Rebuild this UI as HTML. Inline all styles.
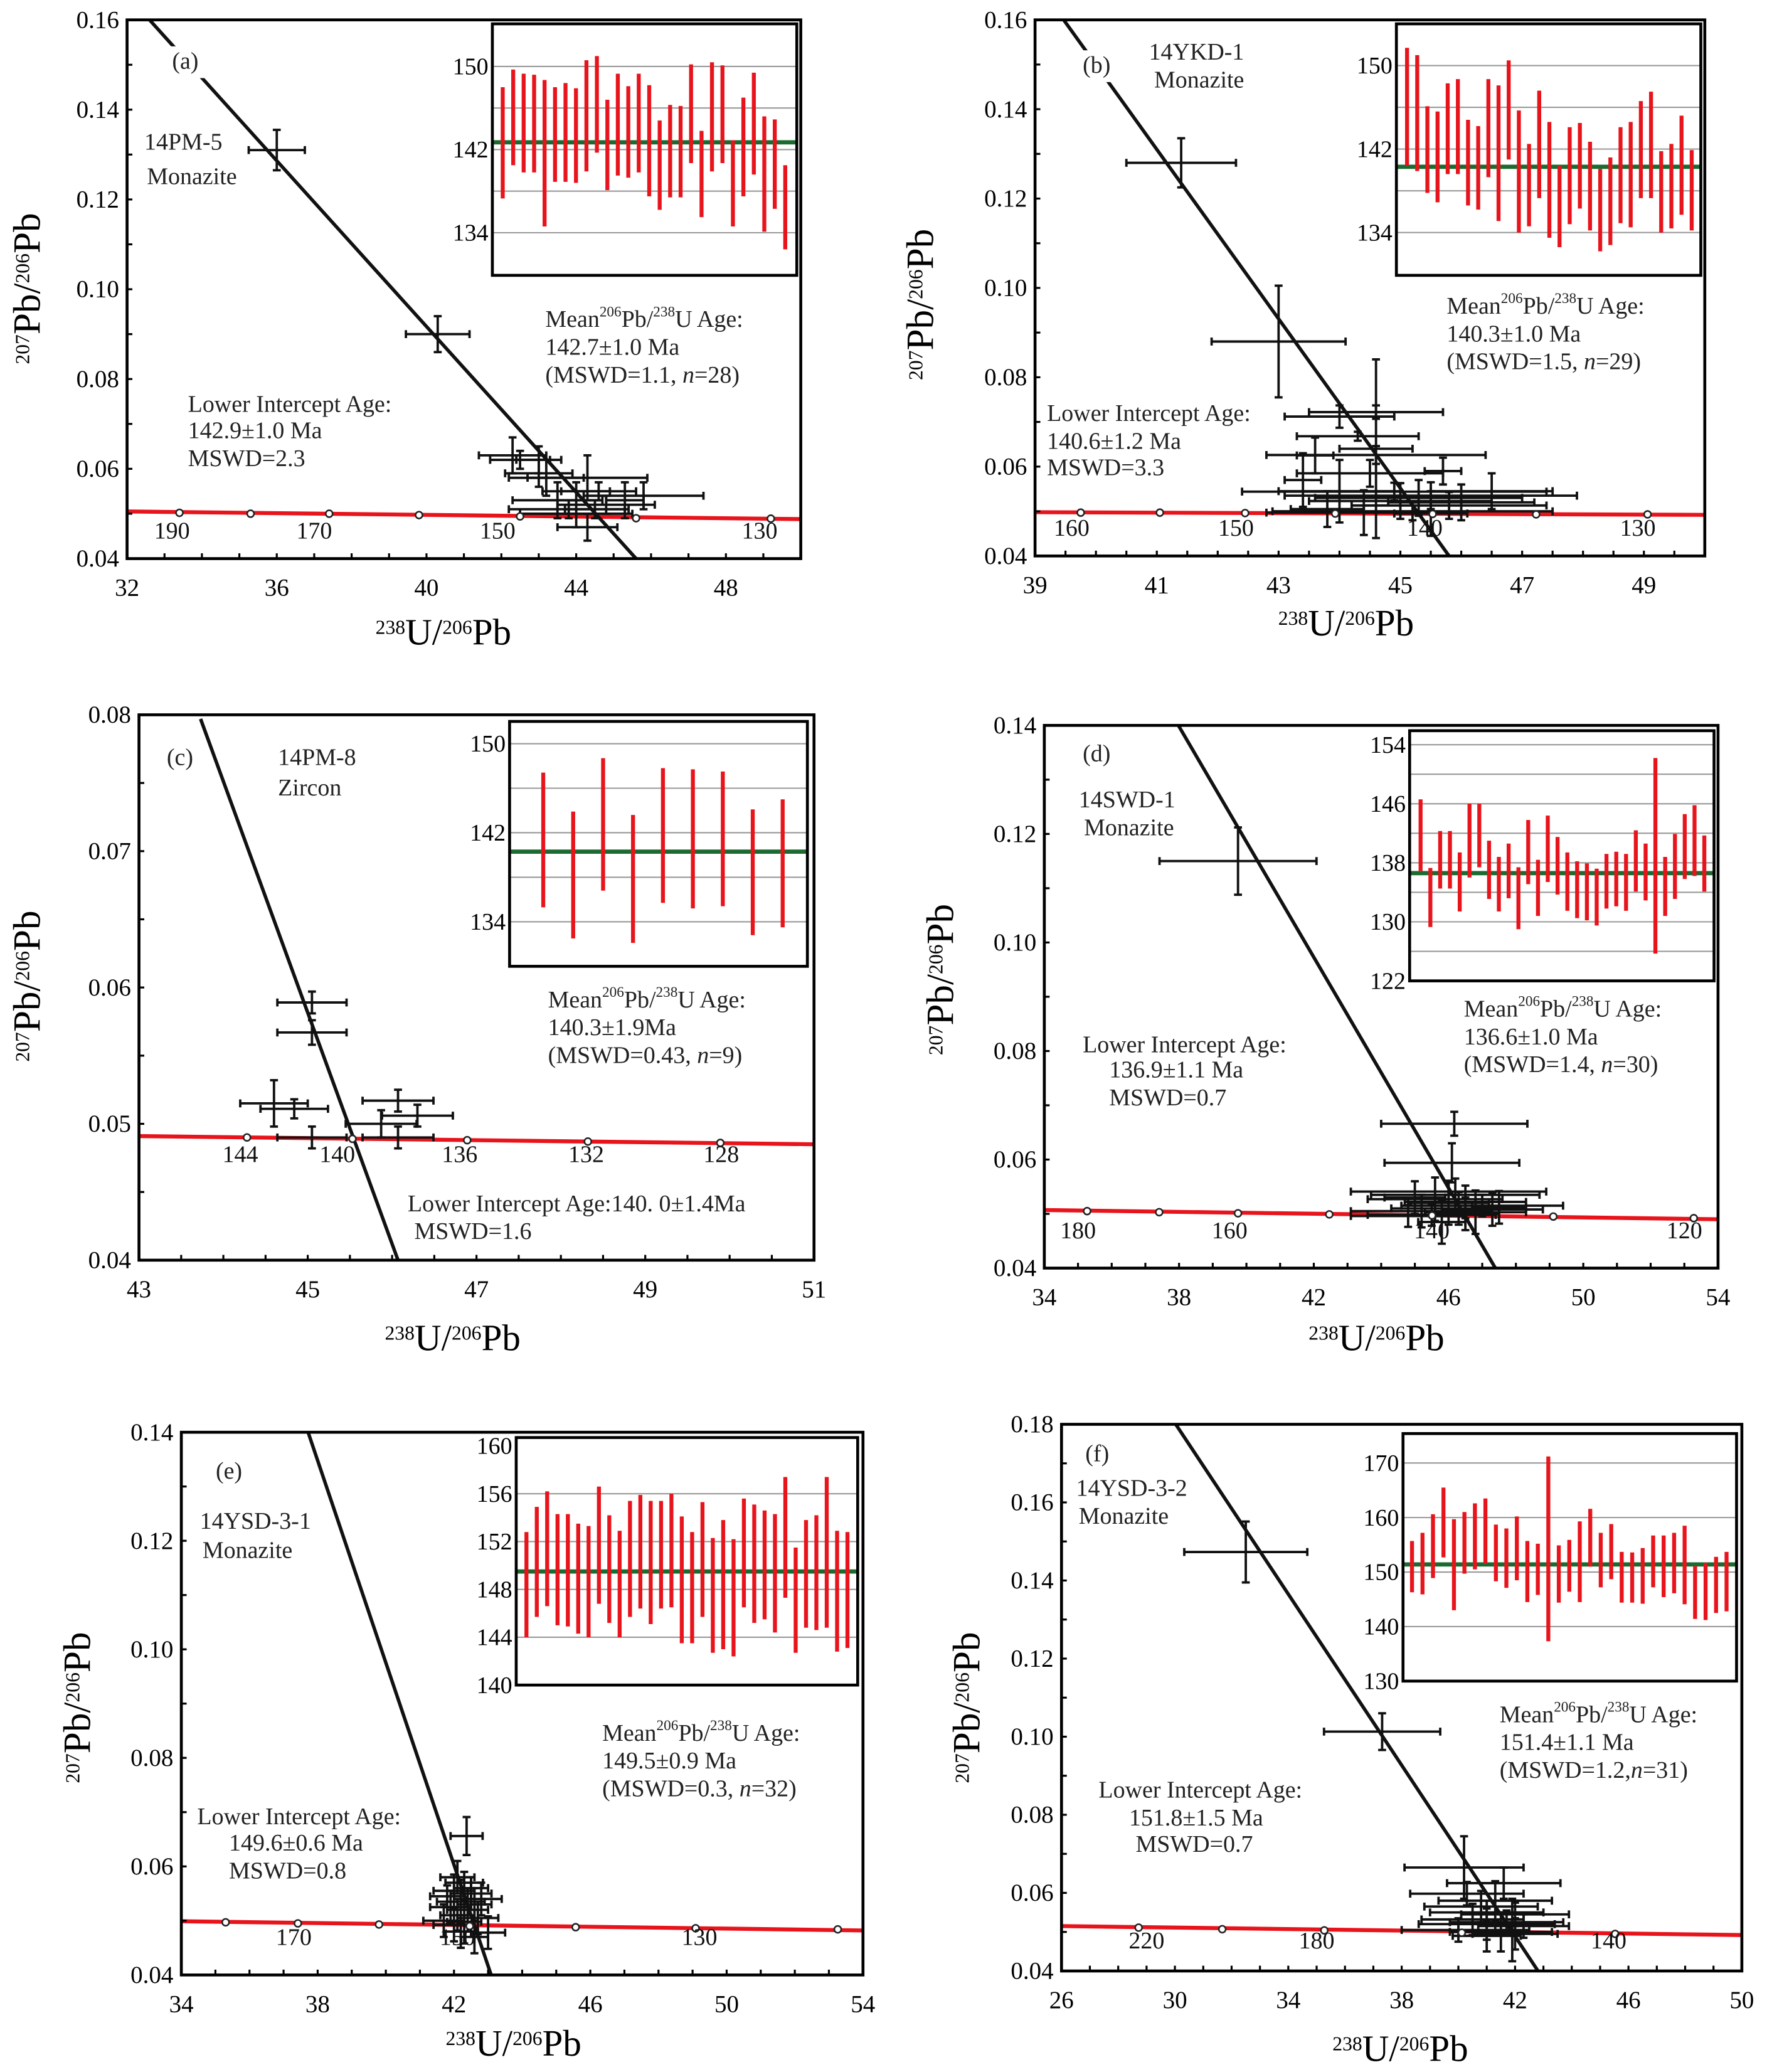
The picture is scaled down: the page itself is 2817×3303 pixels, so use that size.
<!DOCTYPE html>
<html><head><meta charset="utf-8"><title>U-Pb concordia diagrams</title>
<style>
html,body{margin:0;padding:0;background:#fff;}
svg{display:block;font-family:"Liberation Serif","DejaVu Serif",serif;}
</style></head>
<body>
<svg id="fig" xmlns="http://www.w3.org/2000/svg" width="2817" height="3303" viewBox="0 0 1335 1565.3"></svg>
<script>
// ---------- Inset data (206Pb/238U ages, error bar low/high) ----------
const aLo=[137.3,140.5,139.8,139.8,134.6,138.9,138.9,138.8,139.9,141.7,138.1,139.5,139.3,139.8,137.5,136.2,137.4,137.4,140.7,135.5,139.9,140.7,134.6,137.5,139.6,134.1,136.3,132.4];
const aHi=[148.0,149.7,149.3,149.2,148.7,148.0,148.4,147.9,150.6,151.0,146.8,149.3,148.1,149.3,148.2,144.8,146.3,146.2,150.2,143.8,150.4,150.1,142.9,147.0,149.4,145.2,144.9,140.5];
const bLo=[140.4,139.9,137.8,136.9,139.6,139.6,136.6,136.2,139.3,135.1,141.0,134.0,134.6,137.3,133.5,132.6,134.8,136.3,134.2,132.2,132.8,134.9,134.5,137.3,137.3,134.0,134.4,135.7,134.2];
const bHi=[151.7,151.0,146.1,145.6,148.3,148.7,144.8,144.2,148.7,148.1,150.5,145.7,142.5,147.6,144.6,140.4,144.1,144.5,142.7,140.1,141.2,144.1,144.6,146.6,147.5,141.8,142.5,145.2,141.9];
const cLo=[135.3,132.5,136.8,132.1,135.7,135.2,135.4,132.8,133.5];
const cHi=[147.4,143.9,148.7,143.6,147.8,147.7,147.5,144.1,145.0];
const dLo=[136.9,129.3,134.5,134.5,131.4,136.0,137.4,133.1,131.4,133.2,129.0,135.1,130.8,135.4,133.7,131.5,130.5,130.2,129.5,131.8,132.1,131.5,134.1,132.9,125.7,130.8,133.1,135.8,136.2,134.1];
const dHi=[146.6,137.3,142.3,142.3,139.4,146.0,146.0,141.0,138.8,140.6,137.4,143.8,138.4,144.4,141.5,139.4,138.2,137.9,137.2,139.2,139.5,139.2,142.4,140.6,152.2,138.8,141.9,144.6,145.8,141.7];
const eLo=[144.0,145.7,146.6,145.0,144.9,144.3,144.0,146.8,145.2,144.0,145.7,146.4,145.1,146.4,146.5,143.5,143.5,145.7,142.7,143.0,142.4,146.5,145.2,145.5,144.4,147.3,142.7,144.8,144.6,144.8,142.8,143.1];
const eHi=[152.8,154.9,156.2,154.3,154.3,153.5,153.3,156.6,154.2,152.9,155.4,155.9,155.4,155.4,156.0,154.1,152.8,155.3,152.3,153.8,152.2,155.6,155.1,154.6,154.3,157.4,151.5,153.8,154.2,157.4,152.9,152.8];
const fLo=[146.3,145.9,148.9,152.7,143.0,149.7,150.5,151.5,148.3,147.1,148.5,144.5,145.8,137.3,144.4,146.4,144.5,151.0,147.2,148.7,144.4,144.4,144.2,147.2,145.4,146.1,144.1,141.4,141.2,142.5,142.8];
const fHi=[155.7,157.2,160.6,165.5,159.7,161.0,162.6,163.5,158.7,158.0,160.2,155.7,155.2,171.2,154.9,155.9,159.3,161.6,157.2,158.8,153.7,153.6,154.4,156.7,156.7,157.2,158.5,151.1,151.7,152.8,153.7];
const insetMeans=[142.7,140.3,140.3,136.6,149.5,151.4];

// ---------- Concordia spot data ----------
const aX =[36.0,40.3,42.3,42.5,43.0,43.2,44.3,44.0,43.5,45.8,45.3,44.8,44.5,44.0,43.8,44.3,43.0,44.6];
const aXe=[0.75,0.85,0.9,0.8,0.9,1.0,1.6,0.9,1.2,1.6,0.5,1.3,0.8,1.5,1.6,0.8,0.6,1.0];
const aY =[0.131,0.090,0.063,0.062,0.059,0.058,0.058,0.055,0.053,0.054,0.053,0.052,0.051,0.050,0.051,0.047,0.062,0.055];
const aYe=[0.0045,0.004,0.004,0.002,0.003,0.004,0.005,0.002,0.004,0.003,0.004,0.002,0.002,0.003,0.002,0.003,0.003,0.002];
const bX =[41.4,43.0,44.6,44.0,44.6,44.3,44.6,43.6,44.5,43.4,44.0,45.7,45.5,45.3,45.0,46.0,45.8,45.2,44.4,46.5,45.5,43.8,44.9];
const bXe=[0.9,1.1,1.1,0.9,0.6,1.0,1.8,0.3,1.2,0.3,1.0,0.3,2.4,1.7,1.5,1.2,1.6,2.3,1.6,1.0,0.6,0.6,2.5];
const bY =[0.128,0.088,0.0722,0.0712,0.0640,0.0668,0.0626,0.0625,0.0585,0.0570,0.0545,0.0590,0.0535,0.0530,0.0523,0.0520,0.0513,0.0500,0.0497,0.0545,0.0495,0.0505,0.0544];
const bYe=[0.0055,0.0125,0.0015,0.0025,0.020,0.001,0.002,0.004,0.003,0.006,0.007,0.003,0.003,0.004,0.004,0.004,0.003,0.002,0.005,0.004,0.005,0.004,0.002];
const cX =[45.05,45.05,44.6,44.84,45.05,46.07,46.3,45.87,46.07];
const cXe=[0.41,0.41,0.4,0.4,0.41,0.42,0.42,0.42,0.42];
const cY =[0.0589,0.0567,0.0515,0.0511,0.0490,0.0517,0.0506,0.0500,0.0490];
const cYe=[0.0008,0.0009,0.0017,0.0007,0.0008,0.0008,0.0008,0.0010,0.0008];
const dX =[39.75,46.17,46.1,46.0,46.2,45.6,46.5,47.0,46.3,45.2,46.8,45.5,44.8,47.3,46.0,45.0,47.5,46.5,45.8];
const dXe=[2.33,2.17,2.0,2.9,2.5,2.0,1.8,2.4,2.0,2.1,1.5,1.9,1.7,1.5,1.2,0.9,0.8,1.0,0.7];
const dY =[0.1150,0.0666,0.0594,0.0541,0.0535,0.0527,0.0522,0.0515,0.0510,0.0505,0.0503,0.0498,0.0496,0.0508,0.0520,0.0530,0.0512,0.0500,0.0485];
const dYe=[0.0062,0.0022,0.0036,0.002,0.003,0.004,0.003,0.002,0.003,0.003,0.004,0.002,0.002,0.003,0.004,0.003,0.003,0.003,0.004];
const eX =[42.37,42.1,42.3,42.0,42.5,41.8,42.2,42.6,41.9,42.4,42.1,42.7,42.3,42.0,43.0,42.5,42.8,42.2,42.6,41.7];
const eXe=[0.47,0.5,0.55,0.6,0.6,0.5,0.7,0.5,0.6,0.6,0.5,0.6,0.5,0.6,0.5,0.5,0.6,0.5,0.4,0.6];
const eY =[0.0656,0.0580,0.0570,0.0555,0.0550,0.0545,0.0535,0.0530,0.0525,0.0520,0.0510,0.0505,0.0498,0.0492,0.0478,0.0560,0.0540,0.0480,0.0470,0.0500];
const eYe=[0.0035,0.003,0.002,0.003,0.003,0.002,0.004,0.003,0.003,0.004,0.003,0.003,0.004,0.003,0.003,0.002,0.003,0.003,0.003,0.003];
const fX =[32.5,37.31,40.2,41.6,40.3,41.3,40.8,41.0,42.0,40.5,41.7,41.0,42.3,40.0,41.5,42.0,41.0,41.9];
const fXe=[2.17,2.05,2.1,2.0,2.0,2.0,2.0,2.0,1.9,1.8,2.0,2.4,1.6,2.0,1.8,1.5,1.2,0.6];
const fY =[0.1473,0.1013,0.0665,0.0625,0.0598,0.0580,0.0565,0.0550,0.0545,0.0532,0.0525,0.0520,0.0515,0.0505,0.0500,0.0495,0.0490,0.0505];
const fYe=[0.0078,0.0047,0.008,0.004,0.003,0.005,0.004,0.003,0.003,0.004,0.003,0.004,0.003,0.003,0.005,0.004,0.004,0.008];

// ---------- Concordia age markers ----------
const aConX=[33.4,35.3,37.4,39.8,42.5,45.6,49.2];
const aConY=[0.0502,0.0500,0.0500,0.0497,0.0494,0.0490,0.0489];
const bConX=[39.75,41.05,42.45,43.93,45.53,47.23,49.06];
const bConY=[0.0497,0.0497,0.0496,0.0495,0.0494,0.0493,0.0493];
const cConX=[44.28,45.53,46.89,48.32,49.89];
const cConY=[0.0490,0.0489,0.0488,0.0487,0.0486];
const dConX=[35.27,37.41,39.75,42.46,45.51,49.11,53.28];
const dConY=[0.0505,0.0503,0.0501,0.0499,0.0497,0.0495,0.0492];
const eConX=[35.30,37.42,39.80,42.46,45.57,49.09,53.26];
const eConY=[0.0497,0.0495,0.0493,0.0490,0.0488,0.0486,0.0484];
const fConX=[28.72,31.67,35.27,40.12,45.53];
const fConY=[0.0511,0.0507,0.0504,0.0498,0.0495];
const aAgeLbl=["190","170","150","130"]; const aAgeX=[33.2,37.0,41.9,48.9];
const bAgeLbl=["160","150","140","130"]; const bAgeX=[39.6,42.3,45.4,48.9];
const cAgeLbl=["144","140","136","132","128"]; const cAgeX=[44.2,45.35,46.8,48.3,49.9];
const dAgeLbl=["180","160","140","120"]; const dAgeX=[35.0,39.5,45.5,53.0];
const eAgeLbl=["170","150","130"]; const eAgeX=[37.3,42.1,49.2];
const fAgeLbl=["220","180","140"]; const fAgeX=[29.0,35.0,45.3];

// ---------- Axis tick labels ----------
const aXTicks=[32,36,40,44,48]; const aYTicks=[0.04,0.06,0.08,0.10,0.12,0.14,0.16];
const bXTicks=[39,41,43,45,47,49]; const bYTicks=[0.04,0.06,0.08,0.10,0.12,0.14,0.16];
const cXTicks=[43,45,47,49,51]; const cYTicks=[0.04,0.05,0.06,0.07,0.08];
const dXTicks=[34,38,42,46,50,54]; const dYTicks=[0.04,0.06,0.08,0.10,0.12,0.14];
const eXTicks=[34,38,42,46,50,54]; const eYTicks=[0.04,0.06,0.08,0.10,0.12,0.14];
const fXTicks=[26,30,34,38,42,46,50]; const fYTicks=[0.04,0.06,0.08,0.10,0.12,0.14,0.16,0.18];
const aInsetTicks=[134,142,150]; const bInsetTicks=[134,142,150]; const cInsetTicks=[134,142,150];
const dInsetTicks=[122,130,138,146,154]; const eInsetTicks=[140,144,148,152,156,160]; const fInsetTicks=[130,140,150,160,170];

const NS="http://www.w3.org/2000/svg";
const svg=document.getElementById('fig');
function mk(tag,attrs,parent){const e=document.createElementNS(NS,tag);for(const k in attrs)e.setAttribute(k,attrs[k]);(parent||svg).appendChild(e);return e;}
function fmt(v,d){return v.toFixed(d);}

const panels=[
 {id:'a',box:[96,15,605,422],xr:[32,50],yr:[0.04,0.16],xt:aXTicks,yt:aYTicks,xdec:0,ydec:2,xminor:2,yminor:0.01,
  disc:[[32.6,0.16],[45.6,0.04]],con:[0.0505,0.0488],conX:aConX,conY:aConY,ageL:aAgeLbl,ageX:aAgeX,ageY:0.0445,
  X:aX,Xe:aXe,Y:aY,Ye:aYe,
  inset:{box:[372,18,602,208],vr:[129.9,154.1],grid:[134,138,142,146,150],ticks:aInsetTicks,lo:aLo,hi:aHi,mean:insetMeans[0],pad:[0.034,0.038]},
  ytitle:[30,218],xtitle:[335,487],knock:[124,35,34,24]},
 {id:'b',box:[782,15,1288,420],xr:[39,50],yr:[0.04,0.16],xt:bXTicks,yt:bYTicks,xdec:0,ydec:2,xminor:1,yminor:0.01,
  disc:[[39.47,0.16],[45.8,0.04]],con:[0.0498,0.0492],conX:bConX,conY:bConY,ageL:bAgeLbl,ageX:bAgeX,ageY:0.0445,
  X:bX,Xe:bXe,Y:bY,Ye:bYe,
  inset:{box:[1055,18,1285,208],vr:[129.9,154.0],grid:[134,138,142,146,150],ticks:bInsetTicks,lo:bLo,hi:bHi,mean:insetMeans[1],pad:[0.035,0.03]},
  ytitle:[705,230],xtitle:[1017,480],knock:[812,38,34,24]},
 {id:'c',box:[105,540,615,952],xr:[43,51],yr:[0.04,0.08],xt:cXTicks,yt:cYTicks,xdec:0,ydec:2,xminor:1,yminor:0.005,
  disc:[[43.73,0.0797],[46.07,0.04]],con:[0.0491,0.0485],conX:cConX,conY:cConY,ageL:cAgeLbl,ageX:cAgeX,ageY:0.0472,
  X:cX,Xe:cXe,Y:cY,Ye:cYe,
  inset:{box:[385,545,610,730],vr:[130.0,152.0],grid:[134,138,142,146,150],ticks:cInsetTicks,lo:cLo,hi:cHi,mean:insetMeans[2],pad:[0.113,0.083]},
  ytitle:[30,745],xtitle:[342,1020]},
 {id:'d',box:[789,548,1298,958],xr:[34,54],yr:[0.04,0.14],xt:dXTicks,yt:dYTicks,xdec:0,ydec:2,xminor:2,yminor:0.01,
  disc:[[37.98,0.14],[47.39,0.04]],con:[0.0507,0.0490],conX:dConX,conY:dConY,ageL:dAgeLbl,ageX:dAgeX,ageY:0.0455,
  X:dX,Xe:dXe,Y:dY,Ye:dYe,
  inset:{box:[1065,552,1295,741],vr:[122.0,155.9],grid:[126,130,134,138,142,146,150,154],ticks:dInsetTicks,lo:dLo,hi:dHi,mean:insetMeans[3],pad:[0.036,0.032]},
  ytitle:[720,740],xtitle:[1040,1020]},
 {id:'e',box:[137,1082,652,1492],xr:[34,54],yr:[0.04,0.14],xt:eXTicks,yt:eYTicks,xdec:0,ydec:2,xminor:2,yminor:0.01,
  disc:[[37.72,0.14],[43.09,0.04]],con:[0.0499,0.0482],conX:eConX,conY:eConY,ageL:eAgeLbl,ageX:eAgeX,ageY:0.0455,
  X:eX,Xe:eXe,Y:eY,Ye:eYe,
  inset:{box:[390,1086,648,1273],vr:[140.0,160.7],grid:[144,148,152,156],ticks:eInsetTicks,lo:eLo,hi:eHi,mean:insetMeans[4],pad:[0.03,0.03]},
  ytitle:[68,1290],xtitle:[388,1553]},
 {id:'f',box:[802,1076,1316,1489],xr:[26,50],yr:[0.04,0.18],xt:fXTicks,yt:fYTicks,xdec:0,ydec:2,xminor:2,yminor:0.01,
  disc:[[30.03,0.18],[42.81,0.04]],con:[0.0515,0.0492],conX:fConX,conY:fConY,ageL:fAgeLbl,ageX:fAgeX,ageY:0.0458,
  X:fX,Xe:fXe,Y:fY,Ye:fYe,
  inset:{box:[1060,1083,1312,1270],vr:[130.0,175.4],grid:[140,150,160,170],ticks:fInsetTicks,lo:fLo,hi:fHi,mean:insetMeans[5],pad:[0.027,0.03]},
  ytitle:[740,1290],xtitle:[1058,1557]}
];

const texts={
 a:[["(a)",130,52],["14PM-5",109,113],["Monazite",111,139],["Lower Intercept Age:",142,311],["142.9±1.0 Ma",142,331],["MSWD=2.3",142,352]],
 b:[["(b)",818,55],["14YKD-1",868,45],["Monazite",872,66],["Lower Intercept Age:",791,318],["140.6±1.2 Ma",791,339],["MSWD=3.3",791,359]],
 c:[["(c)",126,578],["14PM-8",210,578],["Zircon",210,601],["Lower Intercept Age:140. 0±1.4Ma",308,915],["MSWD=1.6",313,936]],
 d:[["(d)",818,575],["14SWD-1",815,610],["Monazite",819,631],["Lower Intercept Age:",818,795],["136.9±1.1 Ma",838,814],["MSWD=0.7",838,835]],
 e:[["(e)",163,1117],["14YSD-3-1",151,1155],["Monazite",153,1177],["Lower Intercept Age:",149,1378],["149.6±0.6 Ma",173,1398],["MSWD=0.8",173,1419]],
 f:[["(f)",820,1104],["14YSD-3-2",813,1130],["Monazite",815,1151],["Lower Intercept Age:",830,1358],["151.8±1.5 Ma",853,1379],["MSWD=0.7",858,1399]]
};
const meanText={a:[412,247,"142.7±1.0 Ma","(MSWD=1.1, ","n","=28)"],b:[1093,237,"140.3±1.0 Ma","(MSWD=1.5, ","n","=29)"],
 c:[414,761,"140.3±1.9Ma","(MSWD=0.43, ","n","=9)"],d:[1106,768,"136.6±1.0 Ma","(MSWD=1.4, ","n","=30)"],
 e:[455,1315,"149.5±0.9 Ma","(MSWD=0.3, ","n","=32)"],f:[1133,1301,"151.4±1.1 Ma","(MSWD=1.2,","n","=31)"]};

panels.forEach(p=>{
 const g=mk('g',{});
 
 
 const [L,T,R,B]=p.box;
 const sx=v=>L+(v-p.xr[0])/(p.xr[1]-p.xr[0])*(R-L);
 const sy=v=>B-(v-p.yr[0])/(p.yr[1]-p.yr[0])*(B-T);
 const cp=mk('clipPath',{id:'clip'+p.id},g); mk('rect',{x:L,y:T,width:R-L,height:B-T},cp);
 const con=mk('line',{x1:L,y1:sy(p.con[0]),x2:R,y2:sy(p.con[1]),stroke:'#e8141c','stroke-width':3},g);
  
 const dl=mk('line',{x1:sx(p.disc[0][0]),y1:sy(p.disc[0][1]),x2:sx(p.disc[1][0]),y2:sy(p.disc[1][1]),stroke:'#111','stroke-width':2.6,'clip-path':'url(#clip'+p.id+')'},g);
  
 if(p.knock){mk('rect',{x:p.knock[0],y:p.knock[1],width:p.knock[2],height:p.knock[3],fill:'#fff'},g);}
 p.X.forEach((x,i)=>{
  const eg=mk('g',{stroke:'#111','stroke-width':1.8,'clip-path':'url(#clip'+p.id+')'},g);
   
  const cx=sx(x),cy=sy(p.Y[i]),x1=sx(x-p.Xe[i]),x2=sx(x+p.Xe[i]),y1=sy(p.Y[i]-p.Ye[i]),y2=sy(p.Y[i]+p.Ye[i]);
  mk('line',{x1:x1,y1:cy,x2:x2,y2:cy},eg);mk('line',{x1:cx,y1:y1,x2:cx,y2:y2},eg);
  mk('line',{x1:x1,y1:cy-3,x2:x1,y2:cy+3},eg);mk('line',{x1:x2,y1:cy-3,x2:x2,y2:cy+3},eg);
  mk('line',{x1:cx-3,y1:y1,x2:cx+3,y2:y1},eg);mk('line',{x1:cx-3,y1:y2,x2:cx+3,y2:y2},eg);
 });
 p.conX.forEach((x,i)=>{
  const c=mk('circle',{cx:sx(x),cy:sy(p.conY[i]),r:2.6,fill:'#fff',stroke:'#222','stroke-width':1.2},g);
   
 });
 p.ageL.forEach((t,i)=>{
  const tx=mk('text',{x:sx(p.ageX[i]),y:sy(p.ageY),'font-size':18,'text-anchor':'middle',fill:'#111'},g);tx.textContent=t;
   
 });
 const fr=mk('rect',{x:L,y:T,width:R-L,height:B-T,fill:'none',stroke:'#000','stroke-width':2.2},g);
  
 const xmin=p.xr[0],xmax=p.xr[1];
 for(let v=xmin;v<=xmax+1e-9;v+=p.xminor/2){ if(v>xmin+1e-9&&v<xmax-1e-9) mk('line',{x1:sx(v),y1:B,x2:sx(v),y2:B-4,stroke:'#000','stroke-width':1.5},g);}
 for(let v=p.yr[0];v<=p.yr[1]+1e-9;v+=p.yminor){ if(v>p.yr[0]+1e-9&&v<p.yr[1]-1e-9) mk('line',{x1:L,y1:sy(v),x2:L+4,y2:sy(v),stroke:'#000','stroke-width':1.5},g);}
 p.xt.forEach(v=>{const t=mk('text',{x:sx(v),y:B+28,'font-size':18.5,'text-anchor':'middle'},g);t.textContent=fmt(v,p.xdec);
   });
 p.yt.forEach(v=>{const t=mk('text',{x:L-6,y:sy(v)+6,'font-size':18.5,'text-anchor':'end'},g);t.textContent=fmt(v,p.ydec);
   });
 const I=p.inset,[iL,iT,iR,iB]=I.box;
 const iy=v=>iB-(v-I.vr[0])/(I.vr[1]-I.vr[0])*(iB-iT);
 const ig=mk('g',{},g);
  
 mk('rect',{x:iL,y:iT,width:iR-iL,height:iB-iT,fill:'#fff'},ig);
 I.grid.forEach(v=>mk('line',{x1:iL,y1:iy(v),x2:iR,y2:iy(v),stroke:'#999','stroke-width':1},ig));
 const n=I.lo.length,w=iR-iL;
 const bx=i=>iL+w*I.pad[0]+i*(w*(1-I.pad[0]-I.pad[1]))/(n-1);
 const gm=mk('line',{x1:iL,y1:iy(I.mean),x2:iR,y2:iy(I.mean),stroke:'#1b6a30','stroke-width':3.2},ig);
  
 I.lo.forEach((lo,i)=>{const b=mk('line',{x1:bx(i),y1:iy(I.hi[i]),x2:bx(i),y2:iy(lo),stroke:'#e8141c','stroke-width':3},ig);
   });
 mk('rect',{x:iL,y:iT,width:iR-iL,height:iB-iT,fill:'none',stroke:'#000','stroke-width':2.2},ig);
 I.ticks.forEach(v=>{const t=mk('text',{x:iL-3,y:iy(v)+6,'font-size':18,'text-anchor':'end'},ig);t.textContent=v;
   });
 texts[p.id].forEach(([s,x,y])=>{const t=mk('text',{x:x,y:y,'font-size':18,fill:'#222'},g);t.textContent=s;
   });
 const m=meanText[p.id];
 const t1=mk('text',{x:m[0],y:m[1],'font-size':18,fill:'#222'},g);
  
 t1.innerHTML='Mean<tspan dy="-8" font-size="11">206</tspan><tspan dy="8">Pb/</tspan><tspan dy="-8" font-size="11">238</tspan><tspan dy="8">U Age:</tspan>';
 const t2=mk('text',{x:m[0],y:m[1]+21,'font-size':18,fill:'#222'},g);t2.textContent=m[2];
  
 const t3=mk('text',{x:m[0],y:m[1]+42,'font-size':18,fill:'#222'},g);
  
 t3.innerHTML=m[3]+'<tspan font-style="italic">'+m[4]+'</tspan>'+m[5];
 const yt=mk('text',{x:0,y:0,'font-size':29,'text-anchor':'middle',transform:'translate('+p.ytitle[0]+','+p.ytitle[1]+') rotate(-90)'},g);
  
 yt.innerHTML='<tspan font-size="15" baseline-shift="super">207</tspan><tspan>Pb/</tspan><tspan font-size="15" baseline-shift="super">206</tspan><tspan>Pb</tspan>';
 const xt=mk('text',{x:p.xtitle[0],y:p.xtitle[1],'font-size':28,'text-anchor':'middle'},g);
  
 xt.innerHTML='<tspan font-size="15" baseline-shift="super">238</tspan><tspan>U/</tspan><tspan font-size="15" baseline-shift="super">206</tspan><tspan>Pb</tspan>';
});
</script>
</body></html>
